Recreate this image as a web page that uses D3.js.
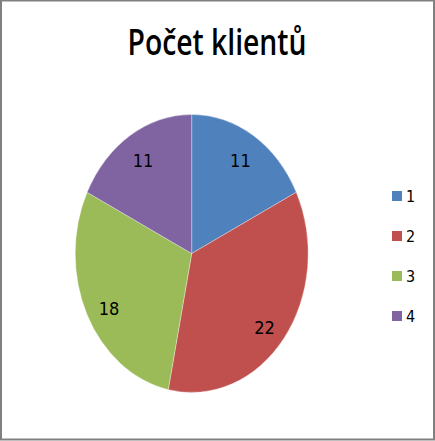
<!DOCTYPE html>
<html>
<head>
<meta charset="utf-8">
<style>
  html, body { margin: 0; padding: 0; background: #fff; }
  svg { display: block; }
  .title { font-family: "Open Sans", sans-serif; font-weight: 600; fill: #000; }
  .label, .legend text { font-family: "Liberation Sans Narrow", "DejaVu Sans Condensed", "Liberation Sans", sans-serif; fill: #000; }
  .label { font-size: 18px; }
  .legend text { font-size: 16px; }
</style>
</head>
<body>
<svg width="435" height="441"></svg>
<script src="https://d3js.org/d3.v7.min.js"></script>
<script>
  var title = "Počet klientů";
  var categories = ["1", "2", "3", "4"];
  var values = [11, 22, 18, 11];
  var colors = ["#4F81BD", "#C0504D", "#9BBB59", "#8064A2"];

  var svg = d3.select("svg");

  // frame
  svg.append("rect")
    .attr("x", 1).attr("y", 0.5)
    .attr("width", 433).attr("height", 439)
    .attr("fill", "#fff")
    .attr("stroke", "#808080")
    .attr("stroke-width", 2);

  svg.append("text")
    .attr("class", "title")
    .attr("x", 217).attr("y", 55)
    .attr("text-anchor", "middle")
    .attr("font-size", 36)
    .attr("textLength", 179)
    .attr("lengthAdjust", "spacingAndGlyphs")
    .text(title);

  // pie is an ellipse: draw a circle, stretch vertically
  var cx = 191.7, cy = 253.5, rx = 116.5, ry = 139;

  var color = d3.scaleOrdinal().domain(categories).range(colors);

  var pie = d3.pie().sort(null).value(function(d, i) { return values[i]; });
  var slices = pie(categories);

  var arc = d3.arc().innerRadius(0).outerRadius(rx);

  var pieG = svg.append("g")
    .attr("transform", "translate(" + cx + "," + cy + ") scale(1," + (ry / rx) + ")");

  pieG.selectAll("path")
    .data(slices)
    .enter()
    .append("path")
    .attr("d", arc)
    .attr("fill", function(d) { return color(d.data); })
    .attr("stroke", "#fff")
    .attr("stroke-opacity", 0.5)
    .attr("stroke-width", 0.6);

  var labelArc = d3.arc().innerRadius(rx * 0.79).outerRadius(rx * 0.79);

  svg.selectAll(".label")
    .data(slices)
    .enter()
    .append("text")
    .attr("class", "label")
    .attr("text-anchor", "middle")
    .attr("dy", "0.35em")
    .attr("x", function(d) { return cx + labelArc.centroid(d)[0]; })
    .attr("y", function(d) {
      var p = labelArc.centroid(d);
      return cy + p[1] * ry / rx + (p[1] > 0 ? 7 : 0);
    })
    .text(function(d) { return d.value; });

  var y = d3.scalePoint().domain(categories).range([196, 316]);

  var legend = svg.append("g").attr("class", "legend");
  var item = legend.selectAll("g")
    .data(categories)
    .enter()
    .append("g")
    .attr("transform", function(d) { return "translate(392," + y(d) + ")"; });

  item.append("rect")
    .attr("x", 0).attr("y", -5)
    .attr("width", 10).attr("height", 10)
    .attr("fill", function(d) { return color(d); });

  item.append("text")
    .attr("x", 14).attr("dy", "0.35em")
    .text(function(d) { return d; });
</script>
</body>
</html>
